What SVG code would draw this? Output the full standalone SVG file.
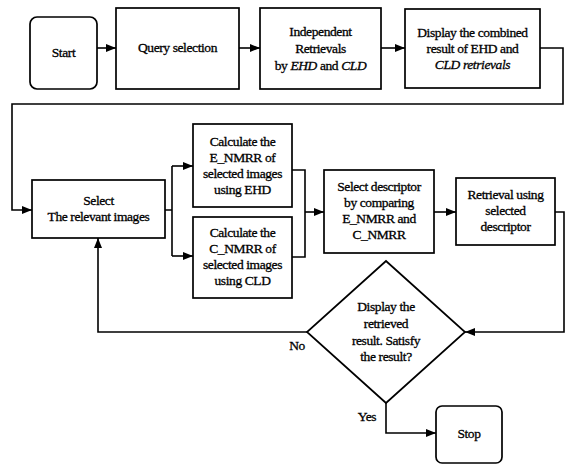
<svg xmlns="http://www.w3.org/2000/svg" width="566" height="464" viewBox="0 0 566 464">
<style>
.box{fill:#fff;stroke:#000;stroke-width:1.7}
.c{fill:none;stroke:#000;stroke-width:1.6}
.t{font-family:'Liberation Serif','Times New Roman',serif;font-size:13.5px;text-anchor:middle;letter-spacing:-0.4px;fill:#000;stroke:#000;stroke-width:0.3}
.i{font-style:italic}
</style>
<defs>
<marker id="ah" markerUnits="userSpaceOnUse" markerWidth="10" markerHeight="8" refX="10" refY="4" orient="auto">
<path d="M0,0 L10,4 L0,8 z" fill="#000"/>
</marker>
</defs>
<rect width="566" height="464" fill="#fff"/>
<g id="connectors">
<path class="c" d="M97,48 H116" marker-end="url(#ah)"/>
<path class="c" d="M239,48 H260" marker-end="url(#ah)"/>
<path class="c" d="M381,48 H405" marker-end="url(#ah)"/>
<path class="c" d="M540,48 H563 V104 H12 V210 H32" marker-end="url(#ah)"/>
<path class="c" d="M165,210 H172 M172,166 V256"/>
<path class="c" d="M172,166 H193" marker-end="url(#ah)"/>
<path class="c" d="M172,256 H193" marker-end="url(#ah)"/>
<path class="c" d="M292,170 H305 V257 H292"/>
<path class="c" d="M305,212 H324" marker-end="url(#ah)"/>
<path class="c" d="M434,212 H456" marker-end="url(#ah)"/>
<path class="c" d="M555,212 H564 V332 H465" marker-end="url(#ah)"/>
<path class="c" d="M307,332 H98 V238" marker-end="url(#ah)"/>
<path class="c" d="M386,403 V433 H436" marker-end="url(#ah)"/>
<text class="t" x="297" y="350">No</text>
<text class="t" x="367" y="421">Yes</text>
</g>
<g id="start">
<rect class="box" x="30" y="17" width="67" height="72" rx="7"/>
<text class="t" x="63.5" y="57">Start</text>
</g>
<g id="query">
<rect class="box" x="116" y="8" width="123" height="81"/>
<text class="t" x="177.5" y="52">Query selection</text>
</g>
<g id="independent">
<rect class="box" x="260" y="8" width="121" height="81"/>
<text class="t" x="320.5" y="36">Independent</text>
<text class="t" x="320.5" y="53">Retrievals</text>
<text class="t" x="320.5" y="70">by <tspan class="i">EHD</tspan> and <tspan class="i">CLD</tspan></text>
</g>
<g id="display">
<rect class="box" x="405" y="9" width="135" height="79"/>
<text class="t" x="472.5" y="37">Display the combined</text>
<text class="t" x="472.5" y="53">result of EHD and</text>
<text class="t i" x="472.5" y="69">CLD retrievals</text>
</g>
<g id="select">
<rect class="box" x="32" y="180" width="133" height="58"/>
<text class="t" x="98.5" y="205">Select</text>
<text class="t" x="98.5" y="221">The relevant images</text>
</g>
<g id="calc-e">
<rect class="box" x="193" y="124" width="99" height="83"/>
<text class="t" x="242.5" y="146">Calculate the</text>
<text class="t" x="242.5" y="162">E_NMRR of</text>
<text class="t" x="242.5" y="178">selected images</text>
<text class="t" x="242.5" y="194">using EHD</text>
</g>
<g id="calc-c">
<rect class="box" x="193" y="217" width="99" height="81"/>
<text class="t" x="242.5" y="237">Calculate the</text>
<text class="t" x="242.5" y="253">C_NMRR of</text>
<text class="t" x="242.5" y="269">selected images</text>
<text class="t" x="242.5" y="285">using CLD</text>
</g>
<g id="descriptor">
<rect class="box" x="324" y="170" width="110" height="83"/>
<text class="t" x="379" y="191">Select descriptor</text>
<text class="t" x="379" y="207">by comparing</text>
<text class="t" x="379" y="223">E_NMRR and</text>
<text class="t" x="379" y="239">C_NMRR</text>
</g>
<g id="retrieval">
<rect class="box" x="456" y="178" width="99" height="67"/>
<text class="t" x="505.5" y="199">Retrieval using</text>
<text class="t" x="505.5" y="215">selected</text>
<text class="t" x="505.5" y="231">descriptor</text>
</g>
<g id="decision">
<polygon class="box" points="386,261 465,332 386,403 307,332"/>
<text class="t" x="386" y="311">Display the</text>
<text class="t" x="386" y="328">retrieved</text>
<text class="t" x="386" y="345">result. Satisfy</text>
<text class="t" x="386" y="361">the result?</text>
</g>
<g id="stop">
<rect class="box" x="436" y="406" width="66" height="57" rx="6"/>
<text class="t" x="469" y="438">Stop</text>
</g>
</svg>
